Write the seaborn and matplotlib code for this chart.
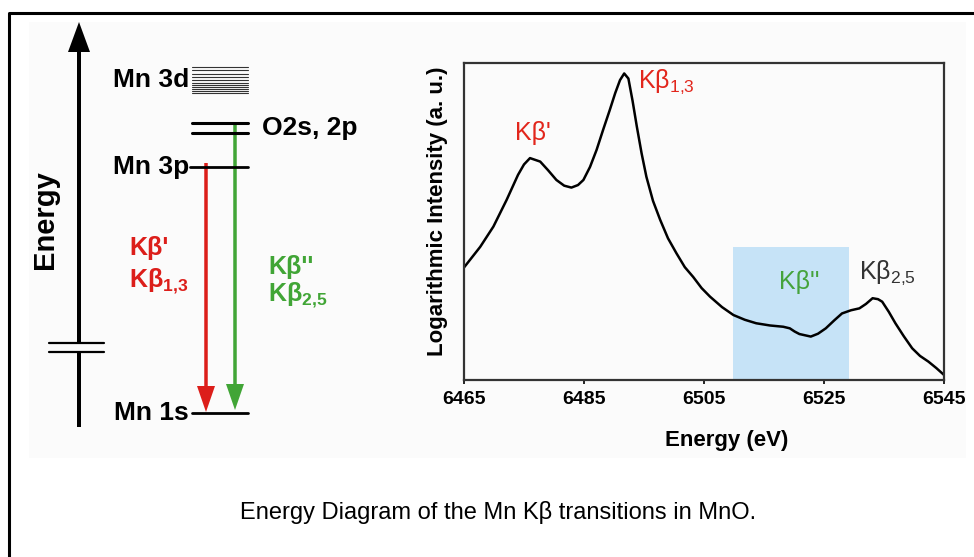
import numpy as np
import pandas as pd
import matplotlib
matplotlib.use("Agg")
import matplotlib.pyplot as plt
import seaborn as sns
from matplotlib.patches import Rectangle, FancyArrow

# Mn Kbeta spectrum of MnO
energy_ev = [6465.0, 6467.7, 6469.9, 6472.1, 6474.0, 6475.0, 6476.0, 6477.7, 6479.0,
             6480.4, 6481.7, 6482.9, 6484.0, 6484.9, 6486.0, 6487.1, 6488.2, 6489.3,
             6490.2, 6491.0, 6491.7, 6492.4, 6493.1, 6493.8, 6494.6, 6495.4, 6496.5,
             6497.7, 6499.0, 6500.4, 6501.8, 6503.2, 6504.6, 6506.0, 6508.0, 6509.9,
             6511.8, 6513.7, 6516.0, 6518.2, 6519.3, 6520.1, 6520.9, 6522.8, 6524.0,
             6525.3, 6526.7, 6528.0, 6529.5, 6530.9, 6532.0, 6533.1, 6534.0, 6534.7,
             6535.8, 6536.9, 6538.3, 6539.7, 6541.0, 6542.4, 6543.7, 6545.0]
log_intensity = [0.355, 0.420, 0.484, 0.568, 0.647, 0.680, 0.700, 0.689, 0.662,
                 0.631, 0.613, 0.607, 0.615, 0.631, 0.672, 0.726, 0.790, 0.852,
                 0.905, 0.946, 0.967, 0.951, 0.880, 0.800, 0.715, 0.641, 0.565,
                 0.505, 0.447, 0.400, 0.356, 0.325, 0.290, 0.263, 0.230, 0.205,
                 0.190, 0.179, 0.172, 0.168, 0.163, 0.153, 0.145, 0.137, 0.146,
                 0.163, 0.188, 0.210, 0.220, 0.226, 0.240, 0.258, 0.255, 0.247,
                 0.215, 0.179, 0.138, 0.100, 0.076, 0.058, 0.038, 0.016]
x_ticks = [6465, 6485, 6505, 6525, 6545]
kbpp_window = [6509.8, 6529.1]
kbpp_window_top = 0.42

peak_labels = ["Kβ'", "Kβ$\\mathregular{_{1{,}3}}$",
               "Kβ''", "Kβ$\\mathregular{_{2{,}5}}$"]
peak_label_x = [6473.5, 6494.0, 6520.8, 6530.9]
peak_label_y = [0.78, 0.941, 0.31, 0.337]
peak_label_ha = ["left", "left", "center", "left"]
peak_label_colors = ["#e2261c", "#e2261c", "#45a33c", "#333333"]

# schematic energy-level diagram (pixel positions in the figure)
level_names = ["Mn 3d", "O2s, 2p", "Mn 3p", "Mn 1s"]
level_y = [80, 128, 167, 413]
mn3d_lines = [66.7, 70, 74, 77.3, 80, 82.7, 85, 87.3, 89.3, 91.3, 93.3]
o2s2p_lines = [123, 133]

RED = "#dc1e1a"
GREEN = "#41a536"

sns.set_theme(style="white")
plt.rcParams["font.family"] = ["Liberation Sans", "DejaVu Sans"]
plt.rcParams["mathtext.fontset"] = "custom"
plt.rcParams["mathtext.rm"] = "Liberation Sans"
plt.rcParams["mathtext.bf"] = "Liberation Sans:bold"
plt.rcParams["mathtext.it"] = "Liberation Sans:italic"
plt.rcParams["text.color"] = "black"
plt.rcParams["axes.labelcolor"] = "black"
plt.rcParams["xtick.color"] = "black"

W, H = 974, 557
fig = plt.figure(figsize=(W / 100, H / 100), dpi=100)

# overlay axes in pixel units for the diagram, frame and caption
bg = fig.add_axes([0, 0, 1, 1], zorder=0)
bg.set_xlim(0, W)
bg.set_ylim(H, 0)
bg.axis("off")

bg.plot([8.5, 8.5, W], [H, 12.5, 12.5], color="black", lw=2.2, solid_capstyle="butt")
bg.add_patch(Rectangle((29, 22), 937, 436, facecolor="#fbfbfb", edgecolor="none"))

# energy axis arrow with a break
bg.add_patch(FancyArrow(79, 427, 0, -405, width=4, head_width=22, head_length=30,
                        length_includes_head=True, color="black", lw=0))
bg.add_patch(Rectangle((74, 344), 10, 8, facecolor="#fbfbfb", edgecolor="none"))
for yy in [343, 352]:
    bg.plot([49, 104], [yy, yy], color="black", lw=1.6)
bg.text(45, 220, "Energy", rotation=90, ha="center", va="center",
        fontsize=21, fontweight="bold")

# levels
for yy in mn3d_lines:
    bg.plot([192, 248], [yy, yy], color="#333333", lw=0.8)
for yy in o2s2p_lines:
    bg.plot([192, 248], [yy, yy], color="black", lw=2.2)
bg.plot([190, 248], [level_y[2], level_y[2]], color="black", lw=2.0)
bg.plot([192, 248], [level_y[3], level_y[3]], color="black", lw=2.0)

for name, yy in zip(level_names, level_y):
    if name.startswith("O2s"):
        bg.text(262, yy, name, ha="left", va="center", fontsize=19, fontweight="bold")
    else:
        bg.text(189, yy, name, ha="right", va="center", fontsize=19, fontweight="bold")

# transitions
bg.add_patch(FancyArrow(206, 163, 0, 249, width=3.5, head_width=18, head_length=26,
                        length_includes_head=True, color=RED, lw=0))
bg.add_patch(FancyArrow(235, 125, 0, 285, width=3.5, head_width=18, head_length=26,
                        length_includes_head=True, color=GREEN, lw=0))
bg.text(129, 248, "Kβ'", ha="left", va="center", fontsize=18,
        fontweight="bold", color=RED)
bg.text(129, 281, "Kβ$\\mathbf{_{1{,}3}}$", ha="left", va="center", fontsize=18,
        fontweight="bold", color=RED)
bg.text(268, 267, "Kβ''", ha="left", va="center", fontsize=18,
        fontweight="bold", color=GREEN)
bg.text(268, 295, "Kβ$\\mathbf{_{2{,}5}}$", ha="left", va="center", fontsize=18,
        fontweight="bold", color=GREEN)

bg.text(498, 512, "Energy Diagram of the Mn Kβ transitions in MnO.",
        ha="center", va="center", fontsize=17, color="black")

# spectrum
ax = fig.add_axes([464 / W, 1 - 380 / H, 480 / W, 317 / H], zorder=2)
ax.set_facecolor("none")
df = pd.DataFrame({"energy": energy_ev, "intensity": log_intensity})
sns.lineplot(data=df, x="energy", y="intensity", ax=ax, color="black", lw=1.8)
ax.axvspan(kbpp_window[0], kbpp_window[1], ymin=0, ymax=kbpp_window_top,
           color="#c6e3f7", lw=0, zorder=0)
for lab, xx, yy, ha, c in zip(peak_labels, peak_label_x, peak_label_y,
                              peak_label_ha, peak_label_colors):
    ax.text(xx, yy, lab, ha=ha, va="center", fontsize=18, color=c)

ax.set_xlim(6465, 6545)
ax.set_ylim(0, 1)
ax.set_xticks(x_ticks)
ax.set_xticklabels([str(t) for t in x_ticks], fontweight="bold", fontsize=14)
ax.set_yticks([])
ax.tick_params(axis="x", bottom=True, direction="out", length=3, width=1.2,
               color="black", labelcolor="black", pad=5)
for sp in ax.spines.values():
    sp.set_color("#333333")
    sp.set_linewidth(1.6)
ax.set_xlabel("Energy (eV)", fontsize=16, fontweight="bold", color="black")
ax.xaxis.set_label_coords((727 - 464) / 480, -0.19)
ax.set_ylabel("Logarithmic Intensity (a. u.)", fontsize=16, fontweight="bold",
              color="black")
ax.yaxis.set_label_coords(-0.056, 0.533)
ax.xaxis.label.set_va("center")
ax.yaxis.label.set_va("center")

fig.savefig("out.png", dpi=100)
